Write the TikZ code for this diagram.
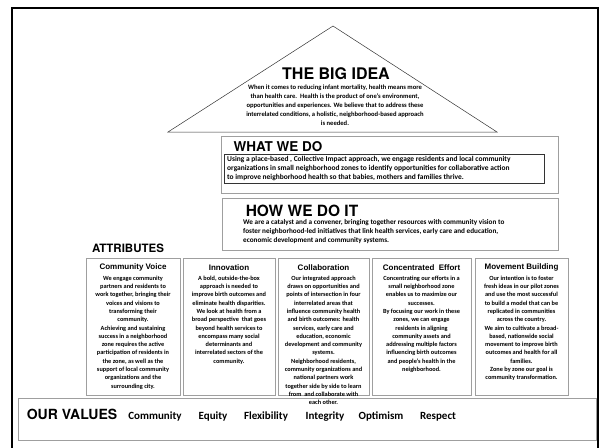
\documentclass[tikz,border=0pt]{standalone}
\usepackage{fontspec}
\setmainfont{Carlito}
\newfontfamily\headfont{TeX Gyre Heros}
\newfontfamily\boxheadfont{Liberation Sans}

\begin{document}
\begin{tikzpicture}[x = 1pt, y = -1pt,
        heading/.style = {font = \headfont\bfseries\fontsize{#1}{#1}\selectfont, inner sep = 0},
        para/.style = {font = \bfseries\fontsize{#1}{9}\selectfont, inner sep = 0},
        attbox/.style = {draw = gray!75, line width = 0.7pt, minimum height = 137, minimum width = #1, inner sep = 0},
        atthead/.style = {font = \boxheadfont\bfseries\fontsize{8}{8}\selectfont, inner sep = 0},
        atttext/.style = {font = \bfseries\fontsize{6.3}{8.3}\selectfont, align = center, inner sep = 0, anchor = north},
        value/.style = {font = \bfseries\fontsize{11}{11}\selectfont, inner sep = 0, anchor = base}]
        \clip (0, 0) rectangle (602, 447);
        % frame, open at the bottom
        \draw [line width = 2.2pt] (12, 460) -- (12, 8) -- (598, 8) -- (598, 460);

        % the big idea
        \draw [line width = 0.5pt, black!80] (168, 132) -- (333, 26) -- (497, 132) -- cycle;
        \node [heading = 16] (ideatitle) at (336, 74) {THE BIG IDEA};
        \node [para = 6.6, align = center, anchor = north] (ideatext) at (335, 85)
            {When it comes to reducing infant mortality, health means more\\
             than health care.\ \ Health is the product of one's environment,\\
             opportunities and experiences. We believe that to address these\\
             interrelated conditions, a holistic, neighborhood-based approach\\
             is needed.};

        % what we do
        \draw [gray!75, line width = 0.7pt] (221, 136) rectangle (558, 193);
        \node [heading = 13.5] (whattitle) at (278, 147) {WHAT WE DO};
        \draw [black!80, line width = 0.7pt] (224, 154) rectangle (544, 183);
        \node [para = 7.45, align = left, anchor = north west] (whattext) at (227, 156)
            {Using a place-based , Collective Impact approach, we engage residents and local community\\
             organizations in small neighborhood zones to identify opportunities for collaborative action\\
             to improve neighborhood health so that babies, mothers and families thrive.};

        % how we do it
        \draw [gray!75, line width = 0.7pt] (222, 198) rectangle (558, 250);
        \node [heading = 15.5] (howtitle) at (302, 211) {HOW WE DO IT};
        \node [para = 7.2, align = left, anchor = north west] (howtext) at (243, 219)
            {We are a catalyst and a convener, bringing together resources with community vision to\\
             foster neighborhood-led initiatives that link health services, early care and education,\\
             economic development and community systems.};

        % attributes
        \node [heading = 11.5] (atttitle) at (128, 248) {ATTRIBUTES};
        \node [attbox = 94] (voice) at (133, 326.5) {};
        \node [attbox = 92] (innov) at (229, 326.5) {};
        \node [attbox = 91] (collab) at (323.5, 326.5) {};
        \node [attbox = 99] (conc) at (421.5, 326.5) {};
        \node [attbox = 93] (move) at (521.5, 326.5) {};
        \node [atthead] (voicetitle) at ([yshift = -10pt] voice.north) {Community Voice};
        \node [atthead] (innovtitle) at ([yshift = -10pt] innov.north) {Innovation};
        \node [atthead] (collabtitle) at ([yshift = -10pt] collab.north) {Collaboration};
        \node [atthead] (conctitle) at ([yshift = -10pt] conc.north) {Concentrated\ \ Effort};
        \node [atthead] (movetitle) at ([yshift = -10pt] move.north) {Movement Building};
        \node [atttext] (voicetext) at ([yshift = -18pt] voice.north)
            {We engage community\\ partners and residents to\\ work together, bringing their\\
             voices and visions to\\ transforming their\\ community.\\ Achieving and sustaining\\
             success in a neighborhood\\ zone requires the active\\ participation of residents in\\
             the zone, as well as the\\ support of local community\\ organizations and the\\ surrounding city.};
        \node [atttext] (innovtext) at ([yshift = -18pt] innov.north)
            {A bold, outside-the-box\\ approach is needed to\\ improve birth outcomes and\\
             eliminate health disparities.\\ We look at health from a\\ broad perspective\ \ that goes\\
             beyond health services to\\ encompass many social\\ determinants and\\
             interrelated sectors of the\\ community.};
        \node [atttext] (collabtext) at ([yshift = -18pt] collab.north)
            {Our integrated approach\\ draws on opportunities and\\ points of intersection in four\\
             interrelated areas that\\ influence community health\\ and birth outcomes: health\\
             services, early care and\\ education, economic\\ development and community\\ systems.\\
             Neighborhood residents,\\ community organizations and\\ national partners work\\
             together side by side to learn\\ from\ \ and collaborate with\\ each other.};
        \node [atttext] (conctext) at ([yshift = -18pt] conc.north)
            {Concentrating our efforts in a\\ small neighborhood zone\\ enables us to maximize our\\
             successes.\\ By focusing our work in these\\ zones, we can engage\\ residents in aligning\\
             community assets and\\ addressing multiple factors\\ influencing birth outcomes\\
             and people's health in the\\ neighborhood.};
        \node [atttext] (movetext) at ([yshift = -18pt] move.north)
            {Our intention is to foster\\ fresh ideas in our pilot zones\\ and use the most successful\\
             to build a model that can be\\ replicated in communities\\ across the country.\\
             We aim to cultivate a broad-\\ based, nationwide social\\ movement to improve birth\\
             outcomes and health for all\\ families.\\ Zone by zone our goal is\\ community transformation.};

        % our values
        \draw [gray!75, line width = 0.7pt] (18, 398) rectangle (596, 440);
        \node [heading = 14, anchor = base] (valuetitle) at (72, 419) {OUR VALUES};
        \foreach \word/\px in {Community/155, Equity/213, Flexibility/266, Integrity/325, Optimism/381, Respect/438}
            \node [value] (val\word) at (\px, 419) {\word};
    \end{tikzpicture}
\end{document}
